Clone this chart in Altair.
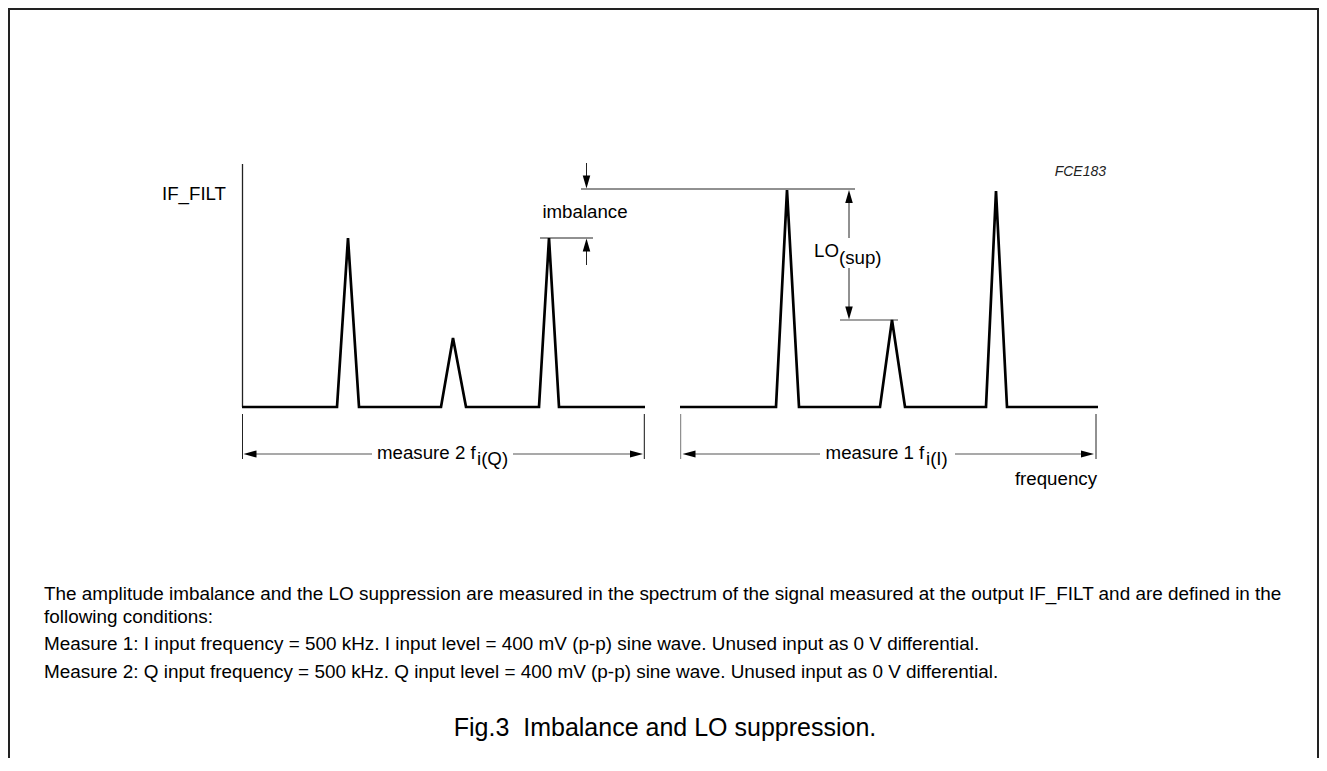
import altair as alt
import pandas as pd

# ---- spectrum traces (frequency position, displayed level) ----
m2_freq = [242, 337, 348, 359, 441, 453, 466, 539, 549, 559, 645]
m2_level = [407, 407, 238, 407, 407, 338, 407, 407, 238, 407, 407]
m1_freq = [680, 776, 787, 799, 880, 892, 905, 986, 996, 1007, 1098]
m1_level = [407, 407, 190, 407, 407, 320, 407, 407, 191, 407, 407]

# ---- construction lines (axis, ticks, dimension lines, reference lines, frame) ----
seg_x1 = [242.5, 242.5, 644.3, 680.7, 1096, 250, 513, 690, 955, 581, 540, 840, 586.5, 586.5, 849, 849, 9, 8, 1318]
seg_y1 = [164, 414, 414, 414, 414, 454, 454, 454, 454, 189, 238, 320, 163, 250, 200, 268, 8, 9, 8]
seg_x2 = [242.5, 242.5, 644.3, 680.7, 1096, 372, 636, 820, 1088, 855, 593, 898, 586.5, 586.5, 849, 849, 9, 1319, 1318]
seg_y2 = [407, 459, 459, 459, 459, 454, 454, 454, 454, 189, 238, 320, 178, 265, 238, 309, 758, 9, 758]
seg_w = [1.3, 1, 1, 1, 1, 1.2, 1.2, 1.2, 1.2, 1, 1, 1, 1, 1, 1, 1, 2, 2, 2]
seg_c = ["#222", "#222", "#111", "#777", "#222", "#555", "#555", "#555", "#555",
         "#222", "#222", "#444", "#222", "#222", "#222", "#222", "#222", "#222", "#222"]

# ---- arrow heads (tip position and direction) ----
arr_x = [243.5, 643, 682.5, 1094, 586.5, 586.5, 849, 849]
arr_y = [454, 454, 454, 454, 188.5, 238.5, 190, 319.5]
arr_dir = ["left", "right", "left", "right", "down", "up", "up", "down"]
arrow_paths = {
    "left": "M0,0L2,-0.55L2,0.55Z",
    "right": "M0,0L-2,-0.55L-2,0.55Z",
    "up": "M0,0L-0.58,2L0.58,2Z",
    "down": "M0,0L-0.58,-2L0.58,-2Z",
}

# ---- labels ----
lab_text = ["IF_FILT", "LO", "(sup)", "measure 2 f", "i(Q)", "measure 1 f", "i(I)"]
lab_x = [162, 814, 839, 377, 477, 825.6, 926]
lab_y = [199.5, 257, 264, 459, 465, 459, 465]

center_text = ["imbalance"]
center_x = [585]
center_y = [218]

right_text = ["frequency"]
right_x = [1097]
right_y = [485]

code_text = ["FCE183"]
code_x = [1106]
code_y = [175.5]

body_text = [
    "The amplitude imbalance and the LO suppression are measured in the spectrum of the signal measured at the output IF_FILT and are defined in the",
    "following conditions:",
    "Measure 1: I input frequency = 500 kHz. I input level = 400 mV (p-p) sine wave. Unused input as 0 V differential.",
    "Measure 2: Q input frequency = 500 kHz. Q input level = 400 mV (p-p) sine wave. Unused input as 0 V differential.",
]
body_x = [44, 44, 44, 44]
body_y = [600, 623, 650, 678]

caption_text = ["Fig.3\u00a0 Imbalance and LO suppression."]
caption_x = [665]
caption_y = [736]

FONT = "Liberation Sans"
FS = 18.7
FS_BODY = 18.9

X = alt.Scale(domain=[8, 1319], nice=False, zero=False)
Y = alt.Scale(domain=[8, 758], nice=False, zero=False, reverse=True)


def xy(xf="x", yf="y"):
    return dict(x=alt.X(f"{xf}:Q", scale=X, axis=None),
                y=alt.Y(f"{yf}:Q", scale=Y, axis=None))


spec = pd.DataFrame({
    "x": m2_freq + m1_freq,
    "y": m2_level + m1_level,
    "trace": ["m2"] * len(m2_freq) + ["m1"] * len(m1_freq),
    "i": list(range(len(m2_freq))) + list(range(len(m1_freq))),
})
spec_layer = alt.Chart(spec).mark_line(color="#000", strokeWidth=2.7, strokeJoin="miter").encode(
    **xy(), detail="trace:N", order="i:Q")

segs = pd.DataFrame({"x": seg_x1, "y": seg_y1, "x2": seg_x2, "y2": seg_y2, "w": seg_w, "c": seg_c})
seg_layer = alt.Chart(segs).mark_rule().encode(
    **xy(), x2="x2:Q", y2="y2:Q",
    strokeWidth=alt.StrokeWidth("w:Q", scale=None),
    color=alt.Color("c:N", scale=None))

arrows = pd.DataFrame({"x": arr_x, "y": arr_y, "p": [arrow_paths[d] for d in arr_dir]})
arrow_layer = alt.Chart(arrows).mark_point(filled=True, color="#000", opacity=1, size=169, strokeWidth=0).encode(
    **xy(), shape=alt.Shape("p:N", scale=None))


def text_layer(texts, xs, ys, align, size, style="normal", color="#000"):
    df = pd.DataFrame({"x": xs, "y": ys, "t": texts})
    return alt.Chart(df).mark_text(align=align, baseline="alphabetic", font=FONT, fontSize=size,
                                   fontStyle=style, color=color).encode(**xy(), text="t:N")


layers = [
    seg_layer,
    spec_layer,
    arrow_layer,
    text_layer(lab_text, lab_x, lab_y, "left", FS),
    text_layer(center_text, center_x, center_y, "center", FS),
    text_layer(right_text, right_x, right_y, "right", FS),
    text_layer(code_text, code_x, code_y, "right", 14, style="italic", color="#222"),
    text_layer(body_text, body_x, body_y, "left", FS_BODY),
    text_layer(caption_text, caption_x, caption_y, "center", 25),
]

chart = alt.layer(*layers).properties(
    width=1311, height=750, padding=0, autosize=alt.AutoSizeParams(type="none"), background="white"
).configure_view(stroke=None)

chart.save("out.html", embed_options={"renderer": "svg", "actions": False})
